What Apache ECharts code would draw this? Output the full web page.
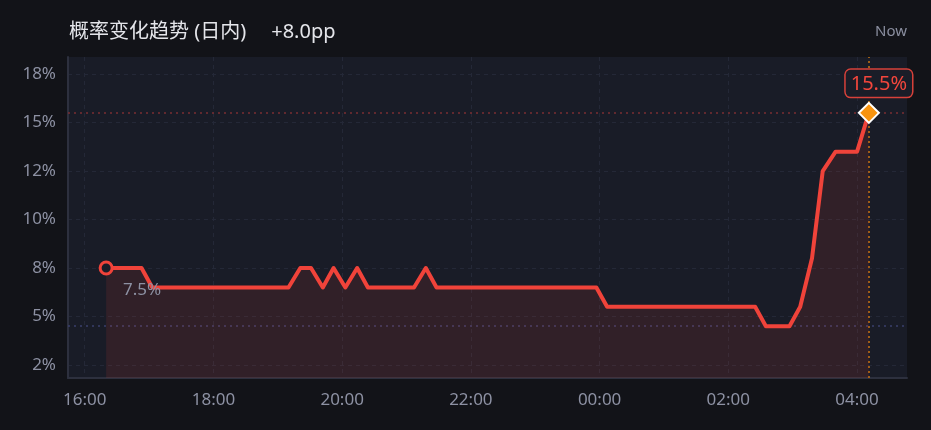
<!DOCTYPE html>
<html><head><meta charset="utf-8">
<script src="https://cdn.jsdelivr.net/npm/echarts@6/dist/echarts.min.js"></script>
<style>html,body{margin:0;padding:0;background:#121318;}#c{width:931px;height:430px;}</style>
</head><body><div id="c"></div>
<script>
const times = ['16:20','16:53','17:03','19:10','19:21','19:31','19:42','19:52','20:03','20:14','20:24','21:07','21:18','21:28','23:57','00:07','02:25','02:35','02:57','03:07','03:18','03:28','03:40','04:00','04:11'];
const values = [7.5,7.5,6.5,6.5,7.5,7.5,6.5,7.5,6.5,7.5,6.5,6.5,7.5,6.5,6.5,5.5,5.5,4.5,4.5,5.5,8.0,12.5,13.5,13.5,15.5];
const xTickValues = [16,18,20,22,24,26,28];
const xTickLabels = ['16:00','18:00','20:00','22:00','00:00','02:00','04:00'];
const yTickValues = [2.5,5,7.5,10,12.5,15,17.5];
const yTickLabels = ['2%','5%','8%','10%','12%','15%','18%'];
const yMin = 1.83, yMax = 18.38;
const titleText = '概率变化趋势 (日内)';
const deltaText = '+8.0pp';
const nowText = 'Now';

function toHour(s){const [h,m]=s.split(':').map(Number);let v=h+m/60;if(h<12)v+=24;return v;}
const hours = times.map(toHour);
const span = hours[hours.length-1]-hours[0];
const xMin = hours[0]-0.05*span, xMax = hours[hours.length-1]+0.05*span;
const maxV = Math.max(...values), minV = Math.min(...values);
const last = values.length-1;
const RED = '#f0433a';
const FONT = '"Noto Sans", "Noto Sans CJK SC", sans-serif';

const data = values.map((v,i)=>{
  const item = {value:[hours[i], v]};
  if(i===0){
    item.symbol='circle'; item.symbolSize=12;
    item.itemStyle={color:'#1a1d28',borderColor:RED,borderWidth:3};
    item.label={show:true,position:'bottom',offset:[36,1],formatter:v.toFixed(1)+'%',color:'#8d91a3',fontSize:17,fontFamily:FONT};
  } else if(i===last){
    item.symbol='diamond'; item.symbolSize=20;
    item.itemStyle={color:'#f7930f',borderColor:'#ffffff',borderWidth:2};
    item.label={show:true,position:'top',offset:[10,0],formatter:v.toFixed(1)+'%',color:'#f2463c',fontSize:20,fontFamily:FONT,
      backgroundColor:'#1a1d28',borderColor:'#d8413a',borderWidth:1.5,borderRadius:5,padding:[4,5,3,5]};
  } else {
    item.symbol='none'; item.symbolSize=0;
  }
  return item;
});

const chart = echarts.init(document.getElementById('c'),null,{renderer:'canvas'});
chart.setOption({
  backgroundColor:'#121318',
  animation:false,
  title:[
    {text:'{a|'+titleText+'}{b|'+deltaText+'}',left:64,top:17,
      textStyle:{color:'#e4e5ea',fontSize:20,fontWeight:'normal',fontFamily:FONT,
        rich:{a:{color:'#e4e5ea',fontSize:20,fontFamily:FONT},b:{color:'#e4e5ea',fontSize:20,fontFamily:FONT,padding:[0,0,0,25]}}}},
    {text:nowText,right:19,top:19,textStyle:{color:'#8a8e9f',fontSize:15,fontWeight:'normal',fontFamily:FONT}}
  ],
  grid:{left:68,right:24,top:57,bottom:52,show:true,backgroundColor:'#191c27',borderWidth:0},
  xAxis:{type:'value',min:xMin,max:xMax,
    axisLine:{show:true,lineStyle:{color:'#2d303e',width:2}},
    axisTick:{show:false,customValues:xTickValues},
    splitLine:{show:true,lineStyle:{color:'#242837',type:[4,4],width:1}},
    axisLabel:{customValues:xTickValues,color:'#8d91a3',fontSize:17,fontFamily:FONT,margin:14,
      formatter:(v)=>{const i=xTickValues.indexOf(v);return i>=0?xTickLabels[i]:'';}}
  },
  yAxis:{type:'value',min:yMin,max:yMax,
    axisLine:{show:true,lineStyle:{color:'#2d303e',width:2}},
    axisTick:{show:false,customValues:yTickValues},
    splitLine:{show:true,lineStyle:{color:'#242837',type:[4,4],width:1}},
    axisLabel:{customValues:yTickValues,color:'#8d91a3',fontSize:17,fontFamily:FONT,margin:12,
      formatter:(v)=>{const i=yTickValues.indexOf(v);return i>=0?yTickLabels[i]:'';}}
  },
  series:[{
    type:'line',data:[],z:1,silent:true,
    markLine:{silent:true,symbol:'none',label:{show:false},animation:false,z:1,
      data:[
        {yAxis:maxV,lineStyle:{color:'#7a2e33',type:[2,4],width:1.5}},
        {yAxis:minV,lineStyle:{color:'#3a3f6c',type:[2,4],width:1.5}},
        {xAxis:hours[last],lineStyle:{color:'#c97412',type:[2,3],width:1.5}}
      ]}
  },{
    type:'line',data:data,showSymbol:true,symbol:'none',
    lineStyle:{color:RED,width:4,join:'round'},
    itemStyle:{color:RED},
    areaStyle:{color:'rgba(240,68,56,0.16)',origin:'start'},
    z:3
  }]
});
</script></body></html>
